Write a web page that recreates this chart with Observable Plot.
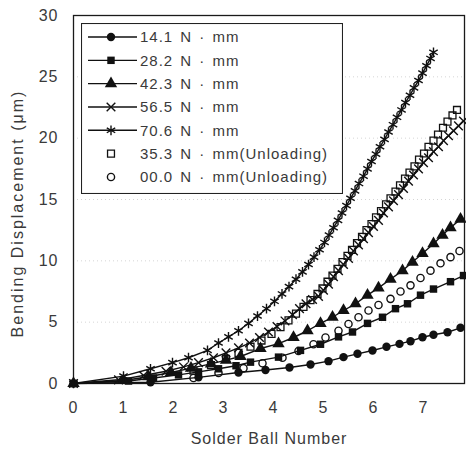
<!DOCTYPE html>
<html>
<head>
<meta charset="utf-8">
<script src="https://cdn.jsdelivr.net/npm/d3@7"></script>
<script src="https://cdn.jsdelivr.net/npm/@observablehq/plot@0.6"></script>
<style>
  body { margin: 0; background: #fff; }
  #chart { position: relative; width: 466px; height: 453px; font-family: "Liberation Sans", Arial, sans-serif; }
  #legend { position: absolute; left: 81px; top: 23px; }
</style>
</head>
<body>
<div id="chart"></div>
<script>
// Series labels (legend order)
const seriesNames = [
  "14.1 N · mm",
  "28.2 N · mm",
  "42.3 N · mm",
  "56.5 N · mm",
  "70.6 N · mm",
  "35.3 N · mm(Unloading)",
  "00.0 N · mm(Unloading)"
];

// Axis ticks
const xTicks = [0, 1, 2, 3, 4, 5, 6, 7];
const yTicks = [0, 5, 10, 15, 20, 25, 30];

// 14.1 N·mm loading
const x141 = [0, 1.54, 2.5, 3.3, 3.84, 4.32, 4.74, 5.1, 5.4, 5.68, 5.98, 6.26, 6.52, 6.74, 6.98, 7.2, 7.48, 7.74];
const y141 = [0, 0.1, 0.5, 0.9, 1.1, 1.3, 1.55, 1.82, 2.15, 2.42, 2.69, 2.99, 3.23, 3.45, 3.77, 3.97, 4.18, 4.54];

// 28.2 N·mm loading
const x282 = [0, 1.1, 1.6, 2.1, 2.5, 2.9, 3.25, 3.54, 4.1, 4.54, 4.94, 5.3, 5.58, 5.88, 6.18, 6.44, 6.68, 6.94, 7.2, 7.54, 7.8];
const y282 = [0, 0.2, 0.45, 0.7, 0.95, 1.2, 1.45, 1.74, 2.15, 2.7, 3.2, 3.8, 4.2, 4.9, 5.4, 6.1, 6.5, 7.2, 7.7, 8.3, 8.8];

// 42.3 N·mm loading
const x423 = [0, 1.0, 1.5, 1.95, 2.35, 2.75, 3.05, 3.34, 3.74, 4.1, 4.4, 4.68, 4.94, 5.18, 5.4, 5.64, 5.88, 6.1, 6.34, 6.58, 6.78, 6.98, 7.2, 7.38, 7.54, 7.74];
const y423 = [0, 0.25, 0.55, 0.9, 1.25, 1.6, 1.9, 2.2, 2.85, 3.25, 3.75, 4.3, 4.9, 5.4, 5.95, 6.5, 7.2, 7.8, 8.5, 9.2, 9.9, 10.6, 11.4, 12.1, 12.7, 13.4];

// 56.5 N·mm loading
const x565 = [0, 0.9, 1.4, 1.85, 2.2, 2.5, 2.8, 3.05, 3.3, 3.52, 3.72, 3.9, 4.07, 4.23, 4.38, 4.52, 4.65, 4.78,
  4.9, 5.0, 5.1, 5.2, 5.3, 5.4, 5.5, 5.6, 5.7, 5.8, 5.9, 6.0, 6.1, 6.2, 6.3, 6.4, 6.5, 6.6, 6.7, 6.8, 6.9,
  7.0, 7.1, 7.2, 7.3, 7.4, 7.5, 7.6, 7.7, 7.8];
const y565 = [0, 0.3, 0.65, 1.0, 1.35, 1.7, 2.1, 2.5, 2.9, 3.3, 3.75, 4.2, 4.65, 5.1, 5.6, 6.1, 6.5, 6.85,
  7.1, 7.6, 8.1, 8.7, 9.2, 9.7, 10.2, 10.8, 11.3, 11.8, 12.3, 12.8, 13.3, 13.9, 14.4, 14.9, 15.4, 15.9, 16.5, 17.0, 17.5,
  18.0, 18.4, 18.9, 19.3, 19.8, 20.2, 20.6, 21.0, 21.4];

// 70.6 N·mm loading
const x706 = [0, 1.0, 1.54, 1.98, 2.3, 2.68, 2.9, 3.1, 3.3, 3.5, 3.68, 3.86, 4.02, 4.17, 4.31, 4.45, 4.58, 4.7,
  4.81, 4.92, 5.02, 5.11, 5.2, 5.29, 5.37, 5.46, 5.54, 5.63, 5.71, 5.8, 5.88, 5.96, 6.05, 6.13, 6.22, 6.3,
  6.39, 6.47, 6.56, 6.64, 6.73, 6.81, 6.9, 6.98, 7.06, 7.14, 7.2];
const y706 = [0, 0.6, 1.2, 1.7, 2.1, 2.7, 3.3, 3.8, 4.3, 4.9, 5.5, 6.1, 6.7, 7.3, 7.9, 8.5, 9.1, 9.7,
  10.3, 10.9, 11.5, 12.1, 12.7, 13.3, 13.9, 14.5, 15.1, 15.7, 16.3, 16.9, 17.5, 18.1, 18.7, 19.3, 19.9, 20.5,
  21.1, 21.7, 22.3, 22.9, 23.5, 24.1, 24.7, 25.3, 25.9, 26.5, 27.0];

// 35.3 N·mm unloading
const x353u = [2.4, 2.75, 3.05, 3.3, 3.54, 3.76, 3.96, 4.14, 4.3, 4.45, 4.6, 4.74, 4.88, 4.98, 5.08, 5.18, 5.28,
  5.38, 5.48, 5.57, 5.67, 5.77, 5.86, 5.96, 6.05, 6.15, 6.25, 6.34, 6.44, 6.53, 6.63, 6.72, 6.82, 6.91,
  7.01, 7.1, 7.2, 7.29, 7.39, 7.48, 7.58, 7.67];
const y353u = [1.05, 1.5, 2.0, 2.5, 3.0, 3.5, 4.05, 4.6, 5.15, 5.7, 6.25, 6.8, 7.3, 7.75, 8.3, 8.8, 9.35,
  9.9, 10.4, 10.9, 11.45, 11.95, 12.5, 13.0, 13.55, 14.05, 14.6, 15.1, 15.65, 16.15, 16.7, 17.2, 17.7, 18.25,
  18.75, 19.3, 19.8, 20.3, 20.85, 21.35, 21.85, 22.3];

// 00.0 N·mm unloading
const x000u = [2.4, 2.9, 3.4, 3.78, 4.18, 4.5, 4.8, 5.04, 5.3, 5.5, 5.7, 5.9, 6.1, 6.34, 6.54, 6.74, 6.94, 7.14, 7.34, 7.54, 7.72];
const y000u = [0.45, 0.85, 1.25, 1.65, 2.1, 2.65, 3.2, 3.75, 4.3, 4.85, 5.4, 5.95, 6.4, 6.9, 7.5, 8.0, 8.6, 9.2, 9.8, 10.3, 10.8];

const seriesX = [x141, x282, x423, x565, x706, x353u, x000u];
const seriesY = [y141, y282, y423, y565, y706, y353u, y000u];

// Marker / line styling per series
const styles = [
  {symbol: "circle",   r: 4.2, fill: "#111", stroke: "none", sw: 0,   line: true},
  {symbol: "square",   r: 4.2, fill: "#111", stroke: "none", sw: 0,   line: true},
  {symbol: "triangle", r: 4.6, fill: "#111", stroke: "none", sw: 0,   line: true},
  {symbol: "times",    r: 4.0, fill: "none", stroke: "#111", sw: 1.4, line: true},
  {symbol: "asterisk", r: 4.6, fill: "none", stroke: "#111", sw: 1.4, line: true},
  {symbol: "square",   r: 3.9, fill: "none", stroke: "#111", sw: 1.3, line: false},
  {symbol: "circle",   r: 3.6, fill: "none", stroke: "#111", sw: 1.4, line: false}
];

const tables = seriesNames.map((name, i) =>
  seriesX[i].map((x, j) => ({series: name, x, y: seriesY[i][j]}))
);

const marks = [
  Plot.gridY(yTicks.slice(1, -1), {stroke: "#888", strokeOpacity: 0.35, strokeDasharray: "1,3"}),
  Plot.frame({stroke: "#1a1a1a", strokeWidth: 1.3})
];
tables.forEach((t, i) => {
  if (styles[i].line) marks.push(Plot.line(t, {x: "x", y: "y", stroke: "#111", strokeWidth: 1.4}));
});
tables.forEach((t, i) => {
  const s = styles[i];
  marks.push(Plot.dot(t, {x: "x", y: "y", symbol: s.symbol, r: s.r, fill: s.fill, stroke: s.stroke, strokeWidth: s.sw}));
});

const chart = Plot.plot({
  width: 466,
  height: 453,
  marginLeft: 73,
  marginRight: 2,
  marginTop: 15,
  marginBottom: 70,
  style: {fontSize: "16px", fontFamily: "Liberation Sans, Arial, sans-serif", color: "#3a3a3a", background: "#fff"},
  x: {domain: [0, 7.82], ticks: xTicks, tickSize: 0, tickPadding: 18, tickFormat: d3.format("d"),
      label: "Solder Ball Number", labelAnchor: "center", labelOffset: 60, labelArrow: "none"},
  y: {domain: [0, 30], ticks: yTicks, tickSize: 0, tickPadding: 15, tickFormat: d3.format("d"),
      label: "Bending Displacement (μm)", labelAnchor: "center", labelOffset: 62, labelArrow: "none"},
  marks
});

const root = document.getElementById("chart");
root.appendChild(chart);

// Axis text spacing; drop any direction arrows from the axis titles
d3.select(chart).selectAll('[aria-label="x-axis tick label"] text, [aria-label="y-axis tick label"] text')
  .style("letter-spacing", "1px");
d3.select(chart).selectAll('[aria-label="x-axis label"] text, [aria-label="y-axis label"] text')
  .each(function () { this.textContent = this.textContent.replace(/\s*[←↑→↓]\s*/g, ""); });
d3.select(chart).selectAll('[aria-label="x-axis label"] text').style("letter-spacing", "1px");
// The vertical title sits a little below the frame's middle
d3.select(chart).selectAll('[aria-label="y-axis label"]').each(function () {
  const t = this.getAttribute("transform") || "";
  this.setAttribute("transform", `translate(0,14) ${t}`);
});
d3.select(chart).selectAll('[aria-label="y-axis label"] text').style("letter-spacing", "2px");

// Legend box inside the plot frame
const lw = 262, lh = 171, rowGap = 23.33, row0 = 14;
const legend = d3.select(root).append("svg")
  .attr("id", "legend").attr("width", lw).attr("height", lh);
legend.append("rect").attr("x", 0.5).attr("y", 0.5).attr("width", lw - 1).attr("height", lh - 1)
  .attr("fill", "#fff").attr("stroke", "#222").attr("stroke-width", 1.1);

const symbolTypes = {circle: d3.symbolCircle, square: d3.symbolSquare, triangle: d3.symbolTriangle,
  times: d3.symbolTimes, asterisk: d3.symbolAsterisk};

seriesNames.forEach((name, i) => {
  const s = styles[i];
  const g = legend.append("g").attr("transform", `translate(0,${row0 + i * rowGap})`);
  if (s.line) g.append("line").attr("x1", 7).attr("x2", 56).attr("stroke", "#111").attr("stroke-width", 1.4);
  g.append("path")
    .attr("transform", "translate(30,0)")
    .attr("d", d3.symbol(symbolTypes[s.symbol], Math.PI * s.r * s.r)())
    .attr("fill", s.fill).attr("stroke", s.stroke).attr("stroke-width", s.sw);
  g.append("text").attr("x", 59).attr("dy", "0.35em")
    .attr("fill", "#3a3a3a").style("font-size", "15px").style("letter-spacing", "1px").style("word-spacing", "2px")
    .text(name);
});
</script>
</body>
</html>
